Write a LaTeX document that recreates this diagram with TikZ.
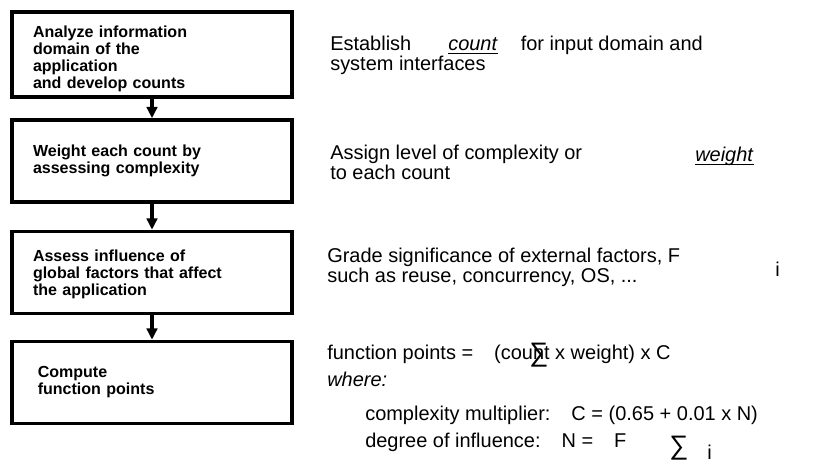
\documentclass[tikz,border=0pt]{standalone}
\usepackage{fontspec}
\setmainfont{Liberation Sans}
\usetikzlibrary{arrows.meta,positioning}
\newcommand{\ulterm}[1]{\underline{\smash{\textit{#1}}}}

\begin{document}
\begin{tikzpicture}[
    stepbox/.style={draw=black,line width=2.6pt,minimum width=7cm,minimum height=2.05cm,text width=5.95cm,inner xsep=0.525cm,align=left,font=\fontsize{11.4}{12.1}\selectfont\bfseries},
    desc/.style={anchor=base west,align=left,inner sep=0pt,font=\fontsize{14.2}{12.5}\selectfont},
    sumsign/.style={inner sep=0pt,font=\fontsize{19}{19}\selectfont},
    flow/.style={-{Triangle[length=8pt,width=7.5pt]},line width=2.2pt}
  ]
    \useasboundingbox (0,0) rectangle (20.8,-11.55);

    % flow chart on the left
    \node[stepbox] (analyze) at (3.8,-1.3625) {\rule{0pt}{0.52cm}Analyze information\\domain of the\\application\\and develop counts};
    \node[stepbox] (weigh) at (3.8,-4.025) {Weight each count by\\assessing complexity};
    \node[stepbox] (assess) at (3.8,-6.8125) {\rule{0pt}{0.4cm}Assess influence of\\global factors that affect\\the application};
    \node[stepbox] (compute) at (3.8,-9.5625) {\hspace{0.12cm}Compute\\\hspace{0.12cm}function points\\[0.2cm]};
    \draw[flow] (analyze.south) -- (weigh.north);
    \draw[flow] (weigh.south) -- (assess.north);
    \draw[flow] (assess.south) -- (compute.north);

    % explanations on the right (multi-line nodes sit on their last line)
    \node[desc] (establish) at (8.25,-1.775) {Establish\hspace{0.925cm}\ulterm{count}\hspace{0.575cm}for input domain and\\system interfaces};
    \node[desc] (assign) at (8.25,-4.5) {Assign level of complexity or\\to each count};
    \node[desc] (weightword) at (17.375,-4.05) {\ulterm{weight}};
    \node[desc] (grade) at (8.175,-7.075) {Grade significance of external factors, F\\such as reuse, concurrency, OS, ...};
    \node[desc] (gradei) at (19.375,-6.925) {i};
    \node[desc] (fp) at (8.175,-9.0) {function points =\hspace{0.525cm}(count x weight) x C};
    \node[sumsign] (sumone) at (13.475,-8.875) {∑};
    \node[desc] (where) at (8.175,-9.675) {\textit{where:}};
    \node[desc] (multiplier) at (9.125,-10.5) {complexity multiplier:\hspace{0.525cm}C = (0.65 + 0.01 x N)};
    \node[desc] (influence) at (9.125,-11.2) {degree of influence:\hspace{0.525cm}N =\hspace{0.525cm}F};
    \node[sumsign] (sumtwo) at (16.975,-11.2) {∑};
    \node[desc] (sumi) at (17.675,-11.5) {i};
\end{tikzpicture}
\end{document}
